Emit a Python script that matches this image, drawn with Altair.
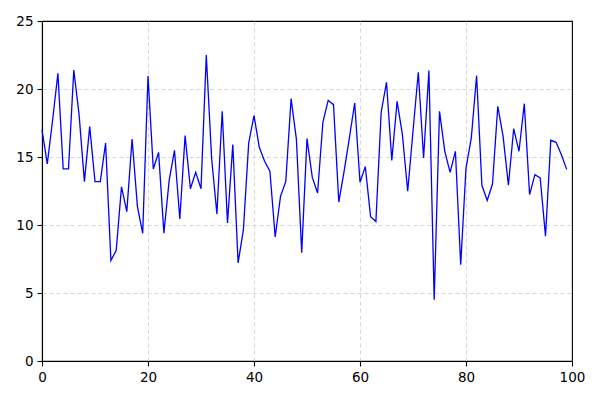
import altair as alt
import pandas as pd

x_vals = list(range(100))
y_vals = [
    17.0, 14.5, 17.7, 21.15, 14.12, 14.12, 21.4, 18.1, 13.19, 17.23,
    13.19, 13.19, 16.03, 7.38, 8.14, 12.8, 10.98, 16.32, 11.37, 9.39,
    20.96, 14.12, 15.34, 9.4, 13.3, 15.49, 10.44, 16.57, 12.67, 13.87,
    12.67, 22.5, 14.93, 10.81, 18.36, 10.15, 15.91, 7.21, 9.66, 16.03,
    18.04, 15.71, 14.68, 13.95, 9.12, 12.11, 13.21, 19.29, 16.3, 7.97,
    16.35, 13.5, 12.35, 17.57, 19.17, 18.85, 11.69, 13.95, 16.4, 18.97,
    13.14, 14.29, 10.61, 10.25, 18.31, 20.49, 14.75, 19.09, 16.64, 12.48,
    16.89, 21.23, 14.93, 21.35, 4.51, 18.36, 15.42, 13.87, 15.42, 7.08,
    14.19, 16.4, 20.98, 12.92, 11.81, 13.01, 18.73, 16.52, 12.92, 17.08,
    15.42, 18.92, 12.23, 13.7, 13.46, 9.17, 16.23, 16.08, 15.17, 14.09,
]
x_ticks = [0, 20, 40, 60, 80, 100]
y_ticks = [0, 5, 10, 15, 20, 25]

df = pd.DataFrame({"x": x_vals, "y": y_vals})

chart = (
    alt.Chart(df)
    .mark_line(color="#0000ff", strokeWidth=1.3)
    .encode(
        x=alt.X(
            "x:Q",
            scale=alt.Scale(domain=[0, 100], nice=False, zero=False),
            axis=alt.Axis(
                values=x_ticks, title=None, format="d", labelAlign="center",
                labelFlush=False, labelOverlap=False,
                gridOpacity=alt.expr("datum.value == 0 || datum.value == 100 ? 0 : 1"),
            ),
        ),
        y=alt.Y(
            "y:Q",
            scale=alt.Scale(domain=[0, 25], nice=False),
            axis=alt.Axis(
                values=y_ticks, title=None, format="d",
                labelFlush=False, labelOverlap=False,
                gridOpacity=alt.expr("datum.value == 0 || datum.value == 25 ? 0 : 1"),
            ),
        ),
    )
    .properties(
        width=530,
        height=340,
        padding={"left": 34, "top": 13, "right": 20, "bottom": 30},
        autosize=alt.AutoSizeParams(type="none"),
    )
    .configure_view(stroke="black", strokeWidth=1.1)
    .configure_axis(
        domainColor="black",
        domainWidth=1.1,
        tickColor="black",
        tickSize=5,
        tickWidth=1.1,
        labelFont="DejaVu Sans",
        labelFontSize=13.5,
        labelColor="black",
        labelPadding=4,
        grid=True,
        gridColor="#cccccc",
        gridDash=[4, 3],
        gridWidth=0.8,
    )
)

chart.save("out.html", embed_options={"renderer": "svg", "actions": False})
